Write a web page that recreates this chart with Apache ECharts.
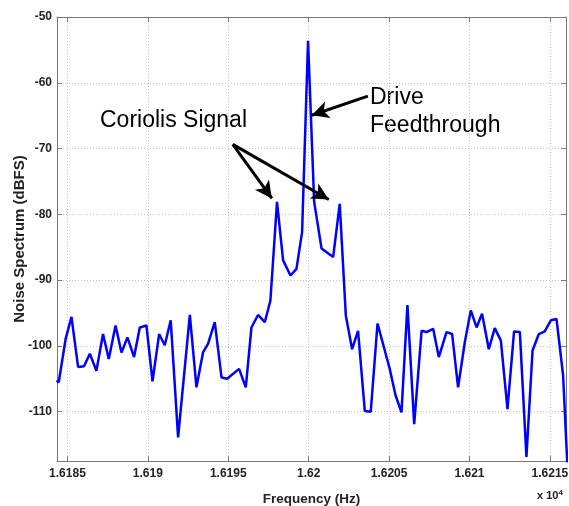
<!DOCTYPE html>
<html>
	<head>
		<meta charset="UTF-8">
		<title>Noise Spectrum</title>
		<script src="https://cdn.jsdelivr.net/npm/echarts@6/dist/echarts.min.js" type="text/javascript" charset="utf-8"></script>
		<style>
			html, body { margin: 0; padding: 0; background: #fff; }
			#chart { width: 569px; height: 506px; }
		</style>
	</head>
	<body>
		<div id="chart"></div>
		<script type="text/javascript">
			// frequency (Hz) and noise level (dBFS)
			var freqHz = [16184.32, 16184.46, 16184.89, 16185.25, 16185.66, 16186.03, 16186.39, 16186.80, 16187.21, 16187.57,
				16187.99, 16188.36, 16188.73, 16189.14, 16189.50, 16189.91, 16190.29, 16190.70, 16191.05, 16191.42,
				16191.88, 16192.61, 16193.02, 16193.43, 16193.74, 16194.16, 16194.58, 16194.93, 16195.67, 16196.09,
				16196.44, 16196.85, 16197.27, 16197.62, 16198.03, 16198.41, 16198.87, 16199.24, 16199.59, 16199.96,
				16200.34, 16200.80, 16201.52, 16201.93, 16202.31, 16202.70, 16203.07, 16203.49, 16203.86, 16204.28,
				16205.04, 16205.40, 16205.77, 16206.14, 16206.56, 16207.02, 16207.33, 16207.74, 16208.09, 16208.57,
				16208.92, 16209.29, 16209.71, 16210.08, 16210.44, 16210.78, 16211.20, 16211.57, 16211.95, 16212.36,
				16212.77, 16213.13, 16213.54, 16213.92, 16214.31, 16214.68, 16215.06, 16215.41, 16215.82, 16216.20];
			var noiseDb = [-105.3, -105.5, -98.9, -95.6, -103.2, -103.1, -101.2, -103.8, -98.2, -102,
				-96.9, -101, -98.7, -101.7, -97.2, -96.9, -105.4, -98.2, -99.9, -96.1,
				-113.9, -95.3, -106.3, -101, -99.7, -96.4, -104.8, -105, -103.5, -106.3,
				-97.2, -95.3, -96.4, -93.1, -78.1, -87, -89.3, -88.3, -82.7, -53.6,
				-78.1, -85.2, -86.5, -78.4, -95.4, -100.5, -97.7, -109.9, -110, -96.6,
				-103.5, -107.5, -110.1, -93.8, -111.9, -97.7, -97.9, -97.4, -101.7, -97.9,
				-98.2, -106.3, -99.4, -94.6, -97.2, -95.1, -100.5, -97.3, -99.2, -109.6,
				-97.8, -97.9, -116.9, -100.7, -98.2, -97.8, -96.1, -95.9, -104.5, -124];

			// axis ranges and tick positions
			var xRange = [16184.35, 16216];
			var yRange = [-117.5, -50];
			var xTicks = [16185, 16190, 16195, 16200, 16205, 16210, 16215];
			var yTicks = [-110, -100, -90, -80, -70, -60, -50];

			// annotation arrows [from, to] in data coords
			var coriolisArrows = [
				[[16195.28, -69.36], [16197.71, -77.59]],
				[[16195.28, -69.36], [16201.25, -77.74]]
			];
			var driveArrow = [[16203.68, -62.04], [16200.19, -64.94]];

			var lineData = [];
			for (var i = 0; i < freqHz.length; i++) {
				lineData.push([freqHz[i], noiseDb[i]]);
			}

			var arrowData = [];
			var allArrows = coriolisArrows.concat([driveArrow]);
			for (var j = 0; j < allArrows.length; j++) {
				arrowData.push([{ coord: allArrows[j][0] }, { coord: allArrows[j][1] }]);
			}

			var fontFam = 'Liberation Sans, Arial, sans-serif';
			var frameLine = { show: true, lineStyle: { color: '#777', width: 1 } };
			var gridLine = { show: true, lineStyle: { color: '#c4c4c4', type: [1, 2], width: 1 } };

			function tickStyle(vals) {
				return { show: true, inside: true, length: 5, customValues: vals, lineStyle: { color: '#777' } };
			}

			var myChart = echarts.init(document.getElementById('chart'));
			var option = {
				animation: false,
				grid: { left: 57, top: 17, width: 509, height: 444, containLabel: false, outerBoundsMode: 'none' },
				xAxis: [{
					type: 'value',
					min: xRange[0],
					max: xRange[1],
					name: 'Frequency (Hz)',
					nameLocation: 'middle',
					nameGap: 31,
					nameMoveOverlap: false,
					nameTextStyle: { color: '#222', fontFamily: fontFam, fontWeight: 'bold', fontSize: 13.5 },
					axisLine: frameLine,
					axisTick: tickStyle(xTicks),
					axisLabel: {
						margin: 7,
						color: '#222',
						fontFamily: fontFam,
						fontWeight: 'bold',
						fontSize: 12,
						customValues: xTicks,
						formatter: function (v) {
							return String(parseFloat((v / 10000).toFixed(5)));
						}
					},
					splitLine: gridLine
				}, {
					type: 'value',
					position: 'top',
					min: xRange[0],
					max: xRange[1],
					axisLine: frameLine,
					axisTick: tickStyle(xTicks),
					axisLabel: { show: false },
					splitLine: { show: false }
				}],
				yAxis: [{
					type: 'value',
					min: yRange[0],
					max: yRange[1],
					name: 'Noise Spectrum (dBFS)',
					nameLocation: 'middle',
					nameGap: 30,
					nameMoveOverlap: false,
					nameTextStyle: { color: '#222', fontFamily: fontFam, fontWeight: 'bold', fontSize: 15 },
					axisLine: frameLine,
					axisTick: tickStyle(yTicks),
					axisLabel: {
						margin: 5,
						color: '#222',
						fontFamily: fontFam,
						fontWeight: 'bold',
						fontSize: 12,
						customValues: yTicks
					},
					splitLine: gridLine
				}, {
					type: 'value',
					position: 'right',
					min: yRange[0],
					max: yRange[1],
					axisLine: frameLine,
					axisTick: tickStyle(yTicks),
					axisLabel: { show: false },
					splitLine: { show: false }
				}],
				series: [{
					type: 'line',
					data: lineData,
					showSymbol: false,
					symbol: 'none',
					clip: true,
					lineStyle: { color: '#0000ff', width: 2.5 },
					markLine: {
						silent: true,
						animation: false,
						symbol: ['none', 'arrow'],
						symbolSize: [13, 17],
						label: { show: false },
						lineStyle: { color: '#000', width: 3, type: 'solid' },
						data: arrowData
					}
				}],
				graphic: [{
					type: 'text',
					left: 100,
					top: 109,
					style: { text: 'Coriolis Signal', fill: '#000', font: '23px "Liberation Sans", Arial, sans-serif' }
				}, {
					type: 'text',
					left: 370,
					top: 84,
					style: { text: 'Drive\nFeedthrough', fill: '#000', font: '23px "Liberation Sans", Arial, sans-serif', lineHeight: 28 }
				}, {
					type: 'text',
					left: 537,
					top: 489,
					style: {
						text: 'x 10{sup|4}',
						fill: '#222',
						font: 'bold 11px "Liberation Sans", Arial, sans-serif',
						rich: { sup: { fontSize: 8, fontWeight: 'bold', verticalAlign: 'top', padding: [0, 0, 6, 0] } }
					}
				}]
			};
			myChart.setOption(option);
		</script>
	</body>
</html>
